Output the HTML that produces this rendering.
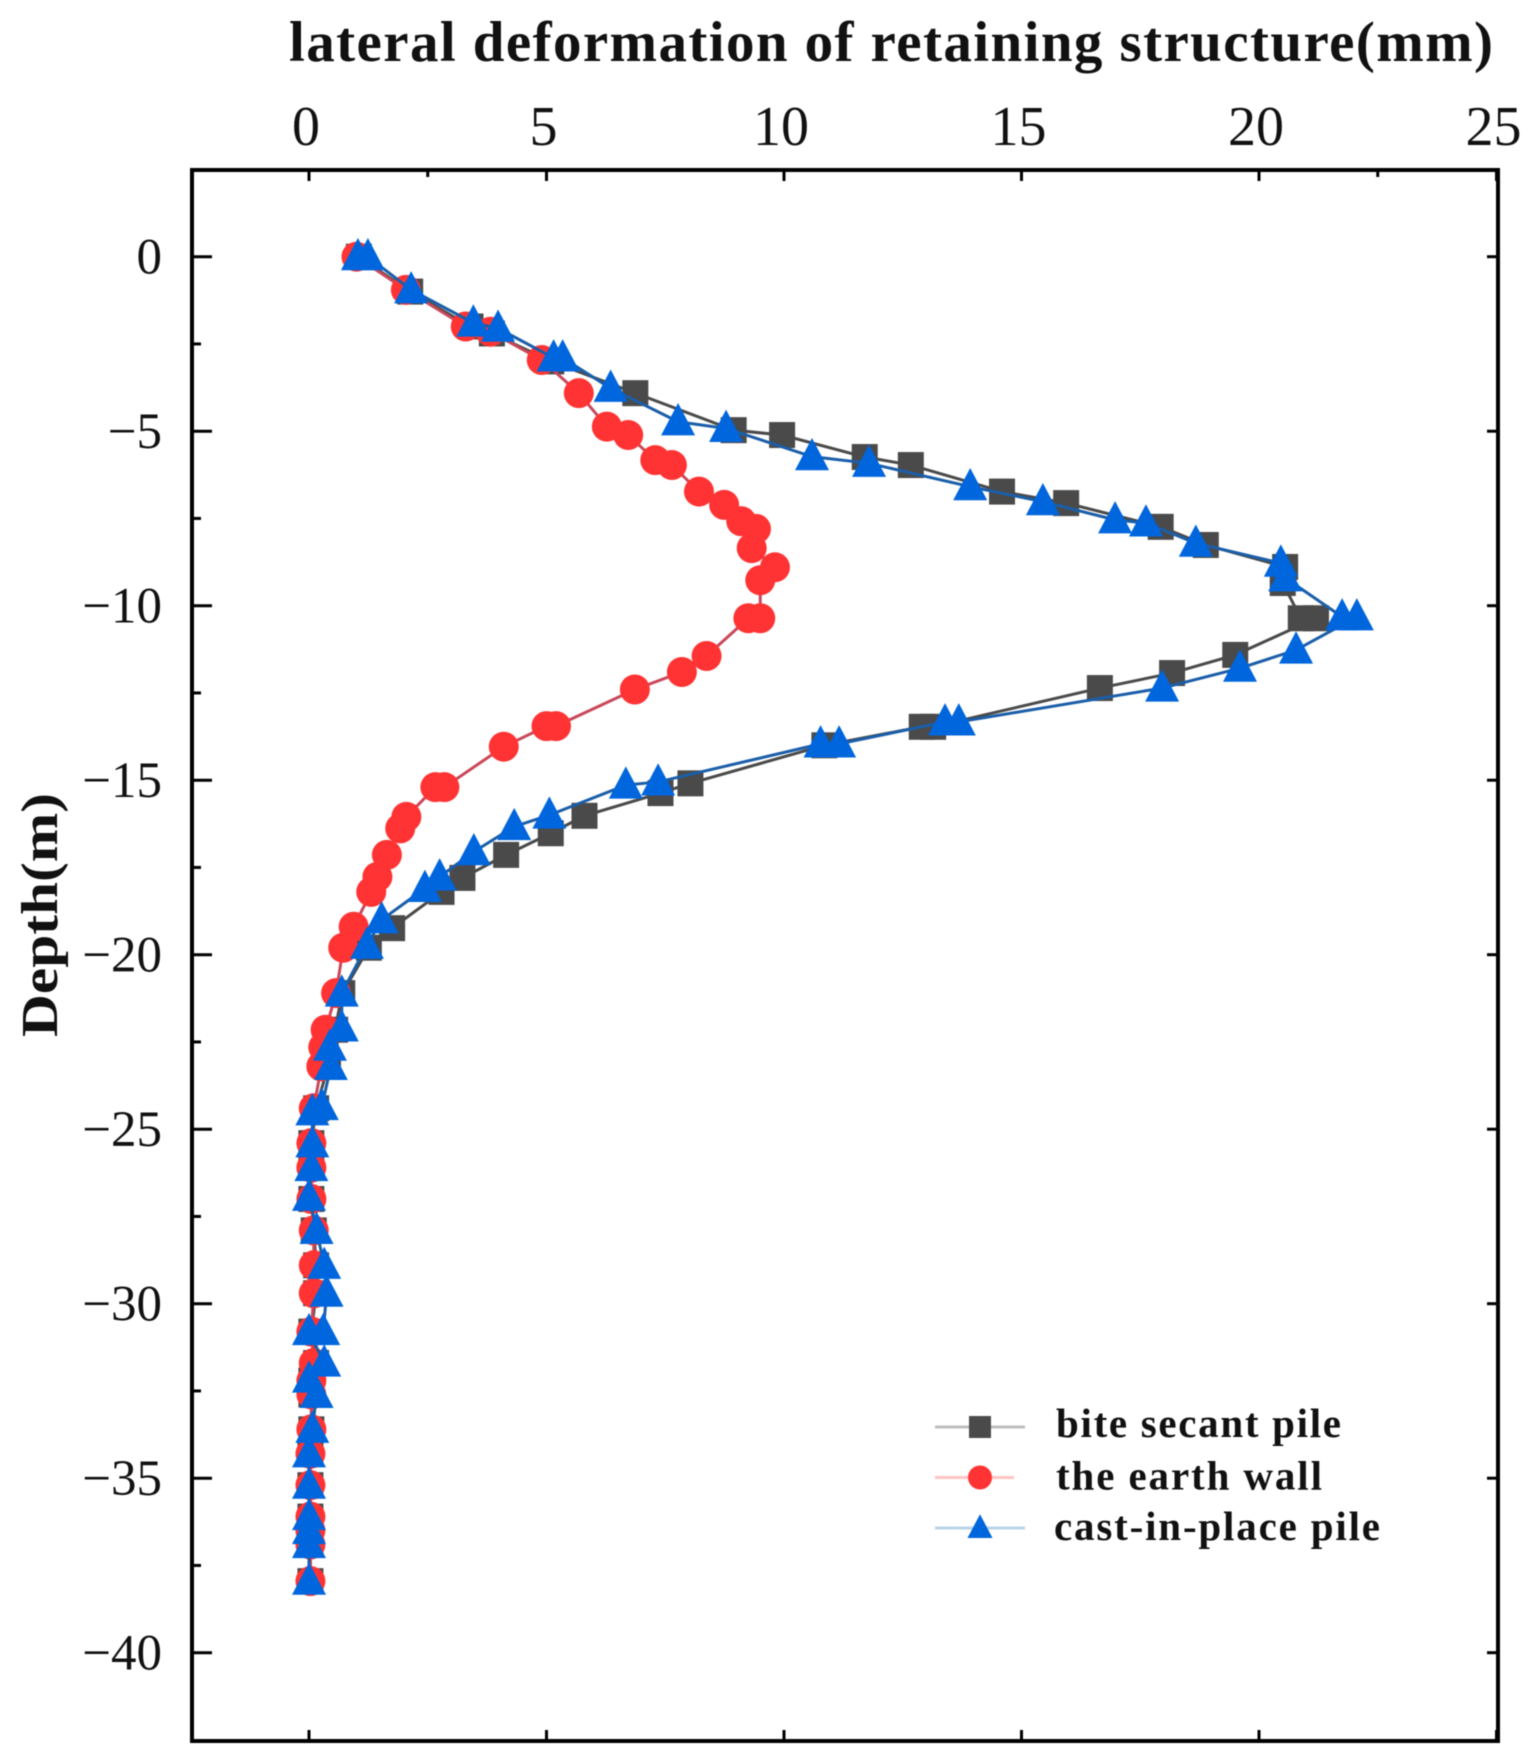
<!DOCTYPE html>
<html lang="en">
<head>
<meta charset="utf-8">
<title>Lateral deformation of retaining structure</title>
<style>
html,body{margin:0;padding:0;background:#fff;width:1530px;height:1764px;overflow:hidden}
svg{display:block;filter:blur(.6px)}
text{font-family:"Liberation Serif",serif;fill:#111}
</style>
</head>
<body>
<svg id="chart" xmlns="http://www.w3.org/2000/svg" width="1530" height="1764" viewBox="0 0 1530 1764">
<rect width="1530" height="1764" fill="#fff"/>
<text x="289" y="61" font-size="57" font-weight="bold" textLength="1204" lengthAdjust="spacing">lateral deformation of retaining structure(mm)</text>
<text transform="translate(57 1037) rotate(-90)" font-size="52" font-weight="bold" textLength="244" lengthAdjust="spacingAndGlyphs">Depth(m)</text>
<g id="axes"></g>
<g id="series"></g>
<g id="legend"></g>
</svg>
<script>
const xMajorTicks = [0, 5, 10, 15, 20, 25];
const xTopMinorTicks = [2.5, 22.5];
const yMajorTicks = [0, -5, -10, -15, -20, -25, -30, -35, -40];
const yMinorTicks = [-2.5, -7.5, -12.5, -17.5, -22.5, -27.5, -32.5, -37.5];

const biteX = [1.05,2.13,3.4,3.85,5.1,6.87,8.94,9.96,11.7,12.67,14.59,15.94,17.93,18.88,20.55,20.5,20.88,21.2,19.5,18.17,16.65,13.14,12.9,10.85,8.03,7.4,5.8,5.09,4.15,3.23,2.79,1.75,1.26,0.7,0.55,0.35,0.4,0.15,0.05,0.05,0.05,0.1,0.15,0.15,0.05,0.15,0.05,0.05,0.05,0.03,0.03,0.03,0.03,0.03,0.03];
const biteDepth = [0,-1,-2,-2.2,-3,-3.91,-4.97,-5.11,-5.74,-5.97,-6.73,-7.06,-7.74,-8.26,-8.89,-9.35,-10.36,-10.36,-11.41,-11.93,-12.36,-13.47,-13.47,-14,-15.09,-15.37,-16.02,-16.52,-17.14,-17.8,-18.2,-19.24,-19.8,-21.1,-22.15,-22.65,-23.2,-24.4,-25.4,-26.1,-27,-27.9,-28.9,-29.7,-30.8,-31.7,-32.2,-32.6,-33.6,-34.3,-35.2,-36.1,-36.5,-36.9,-37.95];

const wallX = [1,2.04,3.3,3.82,4.9,5.68,6.27,6.72,7.29,7.64,8.21,8.74,9.1,9.41,9.32,9.81,9.5,9.5,9.25,8.37,7.85,6.86,5.2,5,4.1,2.85,2.66,2.05,1.92,1.64,1.44,1.31,0.94,0.72,0.57,0.35,0.3,0.26,0.1,0.05,0.05,0.05,0.1,0.1,0.1,0.05,0.1,0.05,0.05,0.05,0.03,0.03,0.03,0.03,0.03,0.03];
const wallDepth = [0,-0.95,-2,-2.15,-2.96,-3.91,-4.87,-5.11,-5.83,-5.97,-6.73,-7.11,-7.58,-7.8,-8.35,-8.9,-9.27,-10.36,-10.36,-11.44,-11.9,-12.4,-13.45,-13.45,-14.04,-15.2,-15.2,-16.05,-16.38,-17.14,-17.77,-18.2,-19.2,-19.8,-21.1,-22.15,-22.65,-23.2,-24.4,-25.4,-26.1,-27,-27.9,-28.9,-29.7,-30.8,-31.7,-32.2,-32.6,-33.6,-34.3,-35.2,-36.1,-36.5,-36.9,-37.95];

const castX = [1.03,1.24,2.15,3.46,3.98,5.15,5.34,6.35,7.77,8.78,10.59,11.79,13.92,15.45,16.97,17.62,18.67,20.46,20.55,21.75,22.06,20.78,19.6,17.96,13.68,13.39,11.16,10.77,7.35,6.67,5.06,4.32,3.47,2.75,2.44,1.53,1.22,0.69,0.69,0.44,0.46,0.27,0.07,0.07,0.05,0,0.16,0.32,0.37,0.3,0,0.32,0,0.16,0.07,0,0,0,0,0,0];
const castDepth = [0,0,-0.95,-1.9,-2.05,-2.9,-2.9,-3.77,-4.73,-4.92,-5.73,-5.92,-6.59,-7.02,-7.54,-7.63,-8.21,-8.78,-9.2,-10.32,-10.32,-11.27,-11.79,-12.36,-13.33,-13.33,-13.96,-13.96,-15.05,-15.14,-16,-16.33,-17.05,-17.77,-18.1,-19,-19.73,-21.1,-22.1,-22.65,-23.2,-24.35,-24.5,-25.42,-26.1,-26.95,-27.9,-28.9,-29.7,-30.8,-30.8,-31.7,-32.16,-32.6,-33.6,-34.3,-35.2,-36.1,-36.5,-36.9,-37.95];

const legendLabels = ["bite secant pile", "the earth wall", "cast-in-place pile"];

const NS = "http://www.w3.org/2000/svg";
const frame = {left: 192, right: 1498, top: 170, bottom: 1741};
function xScale(v){ return 309 + 47.5 * v; }
function yScale(d){ return 256.7 - 34.9 * d; }
function make(tag, attrs, parent){
  const el = document.createElementNS(NS, tag);
  for (const k in attrs) el.setAttribute(k, attrs[k]);
  parent.appendChild(el);
  return el;
}
const axes = document.getElementById("axes");
const seriesG = document.getElementById("series");
const legend = document.getElementById("legend");

const border = make("rect", {x: frame.left, y: frame.top, width: frame.right - frame.left, height: frame.bottom - frame.top, fill: "none", stroke: "#000", "stroke-width": 4}, axes);



function tickLine(x1, y1, x2, y2, w){
  const t = make("line", {x1, y1, x2, y2, stroke: "#000", "stroke-width": w}, axes);
  
  
}
xMajorTicks.forEach(v => {
  const x = xScale(v);
  tickLine(x, frame.top, x, frame.top + 11, 3);
  tickLine(x, frame.bottom, x, frame.bottom - 11, 3);
  const label = make("text", {x: x - 3, y: 145, "font-size": 56, "text-anchor": "middle"}, axes);
  
  
  label.textContent = String(v);
});
xTopMinorTicks.forEach(v => {
  const x = xScale(v);
  tickLine(x, frame.top, x, frame.top + 7, 3);
});
yMajorTicks.forEach(d => {
  const y = yScale(d);
  tickLine(frame.left, y, frame.left + 20, y, 3);
  tickLine(frame.right, y, frame.right - 11, y, 3);
  const label = make("text", {x: 162, y: y + 17, "font-size": 51, "text-anchor": "end"}, axes);
  
  
  label.textContent = d === 0 ? "0" : "\u2212" + Math.abs(d);
});
yMinorTicks.forEach(d => {
  const y = yScale(d);
  tickLine(frame.left, y, frame.left + 9, y, 3);
});

function drawSquare(cx, cy, color, size, parent){
  return make("rect", {x: cx - size / 2, y: cy - size / 2, width: size, height: size, fill: color}, parent);
}
function drawCircle(cx, cy, color, size, parent){
  return make("circle", {cx, cy, r: size / 2, fill: color}, parent);
}
function drawTriangle(cx, cy, color, size, parent){
  const h = size * 0.95, b = size / 2;
  return make("polygon", {points: `${cx},${cy - h * 0.58} ${cx + b},${cy + h * 0.42} ${cx - b},${cy + h * 0.42}`, fill: color}, parent);
}
function drawSeries(name, xs, ds, lineColor, markColor, drawMark, size){
  const g = make("g", {}, seriesG);
  
  
  const line = make("polyline", {points: xs.map((v, i) => xScale(v) + "," + yScale(ds[i])).join(" "), fill: "none", stroke: lineColor, "stroke-width": 3}, g);
  
  
  xs.forEach((v, i) => {
    const m = drawMark(xScale(v), yScale(ds[i]), markColor, size, g);
    
    
  });
}
drawSeries("bite-secant-pile", biteX, biteDepth, "#4a4a4a", "#4a4a4a", drawSquare, 26);
drawSeries("earth-wall", wallX, wallDepth, "#c9485a", "#ff3333", drawCircle, 30);
drawSeries("cast-in-place-pile", castX, castDepth, "#1b5ea8", "#0066dd", drawTriangle, 34);

const legendColors = ["#4a4a4a", "#ff3333", "#0066dd"];
const legendLines = ["#bdbdbd", "#ffc4c4", "#b9d3e8"];
const legendDraw = [drawSquare, drawCircle, drawTriangle];
const legendSizes = [22, 24, 25];
const legendWidths = [285, 266, 326];
const legendStart = [1056, 1056, 1054];
const legendTextDrop = [10, 12, 12];
const legendLineEnd = [1025, 1014, 1025];
legendLabels.forEach((name, i) => {
  const y = 1427 + i * 50.5;
  const ln = make("line", {x1: 935, y1: y, x2: legendLineEnd[i], y2: y, stroke: legendLines[i], "stroke-width": 3}, legend);
  
  
  const mk = legendDraw[i](980, y, legendColors[i], legendSizes[i], legend);
  
  
  const t = make("text", {x: legendStart[i], y: y + legendTextDrop[i], "font-size": 41, "font-weight": "bold", textLength: legendWidths[i], lengthAdjust: "spacing"}, legend);
  
  
  t.textContent = name;
});
</script>
</body>
</html>
